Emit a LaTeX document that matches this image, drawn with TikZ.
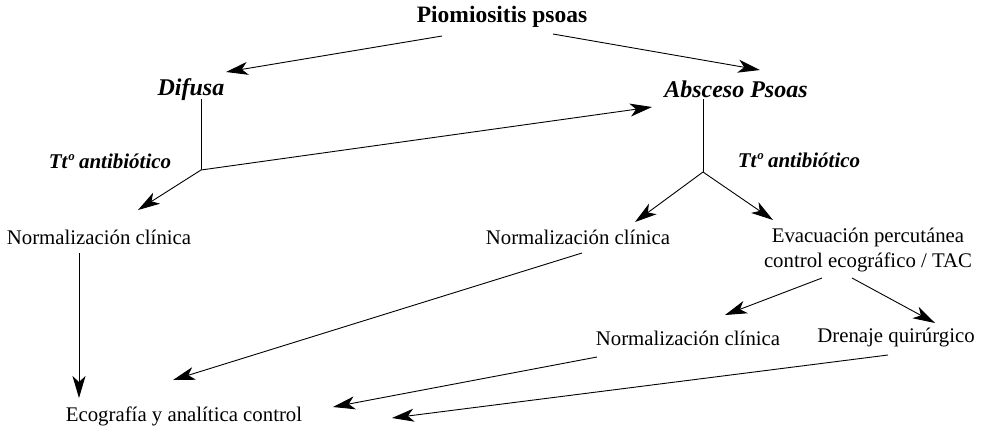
\documentclass[tikz,border=0pt]{standalone}
\usepackage{fontspec}
\setmainfont{Liberation Serif}
\usetikzlibrary{arrows.meta, positioning}

\begin{document}
\begin{tikzpicture}[
        x=1pt, y=-1pt,
        txt/.style={inner sep=1pt, align=center, font=\fontsize{20.8}{25}\selectfont},
        head/.style={inner sep=1pt, font=\fontsize{23.5}{27}\selectfont\bfseries},
        branch/.style={inner sep=1pt, font=\fontsize{24}{28}\selectfont\bfseries\itshape},
        treat/.style={inner sep=1pt, font=\fontsize{21}{24}\selectfont\bfseries\itshape},
        arr/.style={-{Stealth[length=22pt, width=13pt, inset=6pt]}, line width=0.9pt},
        stem/.style={line width=0.9pt}
    ]
        \useasboundingbox (0,0) rectangle (983,426);

        % Top level
        \node[head] (pio) at (502,17) {Piomiositis psoas};
        \node[branch] (dif) at (191,90) {Difusa};
        \node[branch] (abs) at (736,89) {Absceso Psoas};

        % Treatment split points
        \coordinate (difsplit) at (201,170);
        \coordinate (abssplit) at (703,172);
        \node[treat] (tt1) at (110,161) {Ttº antibiótico};
        \node[treat] (tt2) at (799,160) {Ttº antibiótico};

        % Outcomes
        \node[txt] (norm1) at (99,237) {Normalización clínica};
        \node[txt] (norm2) at (578,237) {Normalización clínica};
        \node[txt] (evac) at (868,250) {Evacuación percutánea\\control ecográfico / TAC};
        \node[txt] (norm3) at (688,338) {Normalización clínica};
        \node[txt] (dren) at (896,338) {Drenaje quirúrgico};
        \node[txt] (eco) at (184,416) {Ecografía y analítica control};

        % Piomiositis branches
        \draw[arr] ([shift={(-60,19)}]pio.center) -- ([shift={(35,-18)}]dif.center);
        \draw[arr] ([shift={(51,17)}]pio.center) -- ([shift={(24,-19)}]abs.center);

        % Difusa
        \draw[stem] ([shift={(10,9)}]dif.center) -- (difsplit);
        \draw[arr] (difsplit) -- ([shift={(39,-27)}]norm1.center);
        \draw[arr] (difsplit) -- ([shift={(-84,18)}]abs.center);

        % Absceso
        \draw[stem] ([shift={(-33,10)}]abs.center) -- (abssplit);
        \draw[arr] (abssplit) -- ([shift={(57,-15)}]norm2.center);
        \draw[arr] (abssplit) -- ([shift={(-95,-30)}]evac.center);

        % Evacuacion
        \draw[arr] ([shift={(-46,28)}]evac.center) -- ([shift={(37,-23)}]norm3.center);
        \draw[arr] ([shift={(-16,28)}]evac.center) -- ([shift={(39,-15)}]dren.center);

        % Control
        \draw[arr] ([shift={(-20,16)}]norm1.center) -- ([shift={(-105,-18)}]eco.center);
        \draw[arr] ([shift={(4,16)}]norm2.center) -- ([shift={(-11,-36)}]eco.center);
        \draw[arr] ([shift={(-91,19)}]norm3.center) -- ([shift={(149,-9)}]eco.center);
        \draw[arr] ([shift={(-8,17)}]dren.center) -- ([shift={(208,2)}]eco.center);
    \end{tikzpicture}
\end{document}
